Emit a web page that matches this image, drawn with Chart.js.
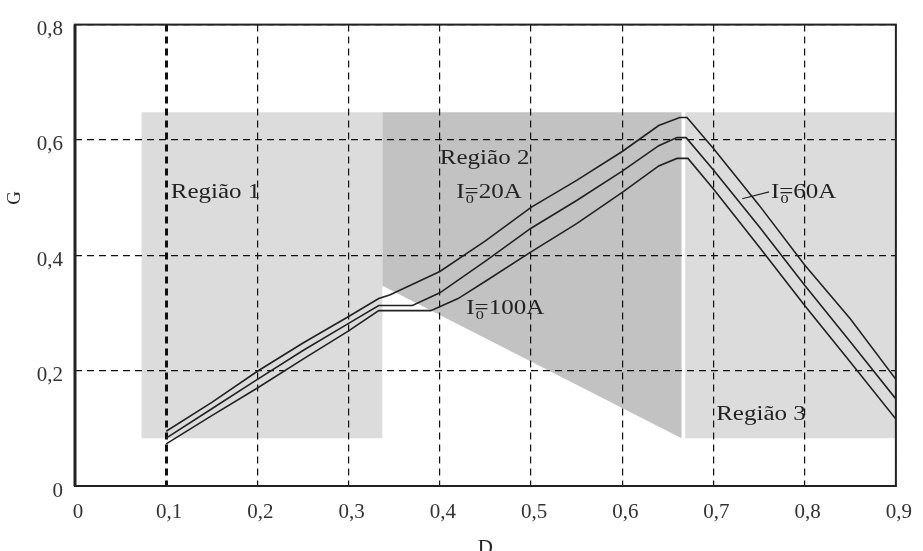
<!DOCTYPE html>
<html>
<head>
<meta charset="utf-8">
<script src="https://cdn.jsdelivr.net/npm/chart.js@4"></script>
<style>
  body { margin: 0; background: #fff; }
  #wrap { width: 923px; height: 551px; }
</style>
</head>
<body>
<div id="wrap"><canvas id="chart" width="923" height="551"></canvas></div>
<script>
// curve data (D on x, G on y)
const xI20 = [0.1, 0.15, 0.2, 0.25, 0.3, 0.333, 0.345, 0.4, 0.45, 0.5, 0.55, 0.6, 0.64, 0.663, 0.671, 0.7, 0.75, 0.8, 0.85, 0.9];
const yI20 = [0.095, 0.145, 0.199, 0.248, 0.294, 0.325, 0.331, 0.372, 0.425, 0.483, 0.53, 0.58, 0.625, 0.639, 0.639, 0.585, 0.487, 0.383, 0.29, 0.185];

const xI60 = [0.1, 0.15, 0.2, 0.25, 0.3, 0.333, 0.37, 0.4, 0.45, 0.5, 0.55, 0.6, 0.64, 0.66, 0.67, 0.7, 0.75, 0.8, 0.85, 0.9];
const yI60 = [0.083, 0.134, 0.185, 0.235, 0.282, 0.313, 0.313, 0.335, 0.39, 0.447, 0.495, 0.546, 0.59, 0.604, 0.604, 0.548, 0.45, 0.348, 0.25, 0.151];

const xI100 = [0.1, 0.15, 0.2, 0.25, 0.3, 0.333, 0.39, 0.42, 0.45, 0.5, 0.55, 0.6, 0.64, 0.66, 0.672, 0.7, 0.75, 0.8, 0.85, 0.9];
const yI100 = [0.073, 0.122, 0.17, 0.22, 0.269, 0.304, 0.304, 0.325, 0.355, 0.406, 0.455, 0.509, 0.555, 0.568, 0.568, 0.515, 0.415, 0.313, 0.215, 0.116];

// pointer from the "I0=60A" label to its curve
const xPointer = [0.7315, 0.761];
const yPointer = [0.498, 0.51];

// shaded regions (polygons in data units)
const region1 = [[0.073, 0.083], [0.073, 0.648], [0.337, 0.648], [0.337, 0.083]];
const region2 = [[0.337, 0.648], [0.665, 0.648], [0.665, 0.083], [0.337, 0.347]];
const region3 = [[0.669, 0.083], [0.669, 0.648], [0.9, 0.648], [0.9, 0.083]];

// text annotations: [text, x, y]
const regionLabels = [["Região 1", 0.105, 0.508], ["Região 2", 0.4, 0.568], ["Região 3", 0.703, 0.124]];
const currentLabels = [["20", 0.418, 0.508], ["100", 0.429, 0.308], ["60", 0.763, 0.508]];

const xMin = 0, xMax = 0.9, xStep = 0.1;
const yMin = 0, yMax = 0.8, yStep = 0.2;

const serif = '"Liberation Serif", "Times New Roman", serif';
const stretch = 1.25; // the figure's lettering is wider than Liberation Serif

function toPoints(xs, ys) {
  return xs.map((x, i) => ({ x: x, y: ys[i] }));
}

function fmt(v) {
  if (Math.abs(v) < 1e-9) return "0";
  return v.toFixed(1).replace(".", ",");
}

const backdrop = {
  id: "backdrop",
  beforeDraw(chart) {
    const ctx = chart.ctx;
    const xs = chart.scales.x, ys = chart.scales.y;
    const fillPoly = (poly, color) => {
      ctx.beginPath();
      poly.forEach((p, i) => {
        const px = xs.getPixelForValue(p[0]);
        const py = ys.getPixelForValue(p[1]);
        if (i === 0) ctx.moveTo(px, py); else ctx.lineTo(px, py);
      });
      ctx.closePath();
      ctx.fillStyle = color;
      ctx.fill();
    };
    ctx.save();
    fillPoly(region1, "#dcdcdc");
    fillPoly(region2, "#c2c2c2");
    fillPoly(region3, "#dcdcdc");
    ctx.restore();
  },
  afterDraw(chart) {
    const ctx = chart.ctx;
    const a = chart.chartArea;
    const xs = chart.scales.x, ys = chart.scales.y;
    ctx.save();
    // frame
    ctx.strokeStyle = "#222";
    ctx.lineWidth = 2;
    ctx.strokeRect(a.left, a.top, a.right - a.left, a.bottom - a.top);
    ctx.lineWidth = 3;
    ctx.beginPath();
    ctx.moveTo(a.left, a.top);
    ctx.lineTo(a.left, a.bottom);
    ctx.stroke();

    // labels, stretched horizontally to the figure's lettering
    ctx.fillStyle = "#222";
    ctx.textBaseline = "middle";
    ctx.textAlign = "left";
    regionLabels.forEach(l => {
      ctx.save();
      ctx.translate(xs.getPixelForValue(l[1]), ys.getPixelForValue(l[2]));
      ctx.scale(stretch, 1);
      ctx.font = "20px " + serif;
      ctx.fillText(l[0], 0, 0);
      ctx.restore();
    });
    currentLabels.forEach(l => {
      ctx.save();
      ctx.translate(xs.getPixelForValue(l[1]), ys.getPixelForValue(l[2]));
      ctx.scale(stretch, 1);
      ctx.font = "20px " + serif;
      ctx.fillText("I", 0, 0);
      const w = ctx.measureText("I").width;
      ctx.fillText("=" + l[0] + "A", w, 0);
      ctx.font = "13px " + serif;
      ctx.fillText("0", w + 1, 7);
      ctx.restore();
    });

    // y axis title
    ctx.font = "19px " + serif;
    ctx.translate(15, 198);
    ctx.rotate(-Math.PI / 2);
    ctx.textAlign = "center";
    ctx.fillText("G", 0, 0);
    ctx.restore();
  }
};

const lineStyle = {
  showLine: true,
  borderColor: "#222",
  borderWidth: 1.6,
  pointRadius: 0,
  tension: 0,
  fill: false
};

new Chart(document.getElementById("chart").getContext("2d"), {
  type: "scatter",
  data: {
    datasets: [
      Object.assign({ label: "I0=20A", data: toPoints(xI20, yI20) }, lineStyle),
      Object.assign({ label: "I0=60A", data: toPoints(xI60, yI60) }, lineStyle),
      Object.assign({ label: "I0=100A", data: toPoints(xI100, yI100) }, lineStyle),
      Object.assign({ label: "pointer", data: toPoints(xPointer, yPointer) }, lineStyle, { borderWidth: 1.2 })
    ]
  },
  options: {
    responsive: false,
    animation: false,
    layout: { padding: { top: 18, right: 20, left: 0, bottom: 0 } },
    plugins: {
      legend: { display: false },
      tooltip: { enabled: false }
    },
    scales: {
      x: {
        type: "linear",
        min: xMin,
        max: xMax,
        afterFit: (s) => { s.height = 65; },
        ticks: {
          stepSize: xStep,
          callback: (v) => fmt(v),
          color: "#333",
          font: { family: serif, size: 21 },
          padding: 14,
          labelOffset: 3,
          maxRotation: 0
        },
        grid: {
          drawTicks: false,
          color: "#111",
          lineWidth: (c) => (c.tick && Math.abs(c.tick.value - 0.1) < 1e-6 ? 3 : 1.2)
        },
        border: { display: false, dash: [7, 5] },
        title: {
          display: true,
          text: "D",
          color: "#222",
          font: { family: serif, size: 21 },
          padding: { top: 0, bottom: -10 }
        }
      },
      y: {
        type: "linear",
        min: yMin,
        max: yMax,
        afterFit: (s) => { s.width = 75; },
        ticks: {
          stepSize: yStep,
          callback: (v) => fmt(v),
          color: "#333",
          font: { family: serif, size: 21 },
          padding: 12,
          labelOffset: 5
        },
        grid: {
          drawTicks: false,
          color: "#111",
          lineWidth: 1.2
        },
        border: { display: false, dash: [7, 5] }
      }
    }
  },
  plugins: [backdrop]
});
</script>
</body>
</html>
